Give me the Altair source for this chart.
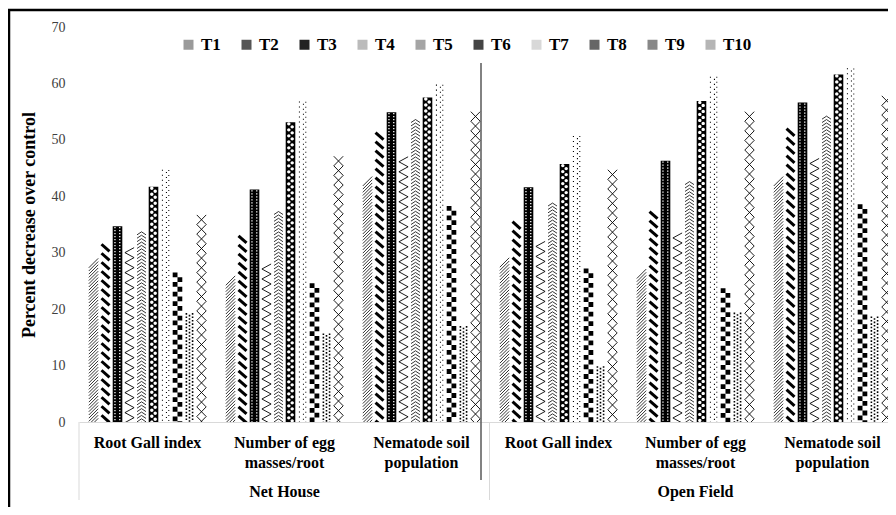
import altair as alt
import pandas as pd

settings = ["Net House", "Open Field"]
parameters = ["Root Gall index", "Number of egg masses/root", "Nematode soil population"]
param_labels = ["Root Gall index", "Number of egg\nmasses/root", "Nematode soil\npopulation"]
treatments = ["T1", "T2", "T3", "T4", "T5", "T6", "T7", "T8", "T9", "T10"]

nh_root_gall = [29.0, 31.5, 34.7, 30.9, 33.7, 41.7, 44.7, 26.5, 19.3, 36.7]
nh_egg = [25.9, 33.0, 41.2, 28.0, 37.3, 53.1, 56.8, 24.6, 15.7, 47.1]
nh_nema = [43.5, 51.3, 54.9, 47.0, 53.6, 57.5, 59.8, 38.3, 17.0, 55.0]
of_root_gall = [29.1, 35.5, 41.6, 32.0, 38.8, 45.7, 50.7, 27.2, 9.9, 44.7]
of_egg = [27.1, 37.3, 46.3, 33.5, 42.6, 56.9, 61.2, 23.7, 19.4, 55.0]
of_nema = [43.5, 52.0, 56.6, 46.7, 54.2, 61.6, 62.7, 38.6, 18.7, 57.8]

legend_grays = ["#9a9a9a", "#555555", "#222222", "#bbbbbb", "#a5a5a5",
                "#444444", "#d8d8d8", "#666666", "#888888", "#b5b5b5"]
base_fills = ["white", "white", "black", "white", "white",
              "black", "white", "white", "white", "white"]

series = {
    ("Net House", "Root Gall index"): nh_root_gall,
    ("Net House", "Number of egg masses/root"): nh_egg,
    ("Net House", "Nematode soil population"): nh_nema,
    ("Open Field", "Root Gall index"): of_root_gall,
    ("Open Field", "Number of egg masses/root"): of_egg,
    ("Open Field", "Nematode soil population"): of_nema,
}

cats = [f"{s}|{p}" for s in settings for p in parameters]
rows = []
for (s, p), vals in series.items():
    for t, v in zip(treatments, vals):
        rows.append({"cat": f"{s}|{p}", "treatment": t, "value": v})
df = pd.DataFrame(rows)

lab_df = pd.DataFrame({"cat": cats, "label": param_labels * 2})
grp_df = pd.DataFrame({"cat": [f"{s}|{parameters[1]}" for s in settings], "label": settings})
one = pd.DataFrame({"a": [0]})

FONT = "Liberation Serif"
HEIGHT = 395
PX = HEIGHT / 70.0  # pixels per unit

xscale = alt.Scale(domain=cats, range=[0, 822], paddingInner=0, paddingOuter=0)
xoff = alt.XOffset("treatment:N",
                   scale=alt.Scale(domain=treatments, paddingInner=0.2, paddingOuter=0.81))
yscale = alt.Scale(domain=[0, 70])


def rect(x, y, w, h):
    return f"M{x},{y}L{x + w},{y}L{x + w},{y + h}L{x},{y + h}Z"


def circ(cx, cy, r):
    return (f"M{cx - r},{cy}A{r},{r} 0 1,0 {cx + r},{cy}"
            f"A{r},{r} 0 1,0 {cx - r},{cy}Z")


# pattern tiles: path (pixel units, size=4 -> scale 1), tile height px, filled, colour,
# stroke width, distance of the top tile centre below the bar top (px)
patterns = {
    "T1": ("M-4.7,4.7L4.7,-4.7", 3.2, False, "black", 0.8, 4.7),
    "T2": ("M-4,-3.6L4,3.6", 9.0, False, "black", 3.0, 3.6),
    "T3": (rect(-3.2, -0.7, 1.3, 1.3) + rect(1.6, -0.7, 1.3, 1.3), 3.0, True, "white", 0, 1.5),
    "T4": ("M4.6,-5L-4.6,0L4.6,5", 10.0, False, "black", 0.9, 5.0),
    "T5": ("M-4.5,1.5L0,-1.5L4.5,1.5", 3.4, False, "black", 0.8, 1.5),
    "T6": (circ(-1.7, -1.5, 1.7) + circ(1.7, 1.5, 1.7), 6.0, True, "white", 0, 3.0),
    "T7": (rect(-3.6, -2.0, 1.1, 1.1) + rect(0.4, 0.2, 1.1, 1.1) + rect(2.8, -1.8, 1.0, 1.0),
           5.0, True, "black", 0, 2.0),
    "T8": (rect(-4.8, -4.8, 4.8, 4.8) + rect(0, 0, 4.8, 4.8), 9.6, True, "black", 0, 4.8),
    "T9": (rect(-3.9, -1.5, 1.6, 1.6) + rect(-0.8, 0.2, 1.6, 1.6) + rect(2.3, -1.5, 1.6, 1.6),
           3.4, True, "black", 0, 1.5),
    "T10": ("M-4.7,-4.8L4.7,4.8M4.7,-4.8L-4.7,4.8", 9.6, False, "black", 0.9, 4.8),
}

# offscreen squares that only carry the legend
legend_layer = alt.Chart(df).mark_square(size=100, opacity=1).encode(
    x=alt.value(-500), y=alt.value(-500),
    color=alt.Color("treatment:N", scale=alt.Scale(domain=treatments, range=legend_grays),
                    legend=alt.Legend(orient="none", legendX=101, legendY=9,
                                      direction="horizontal", columns=10, title=None,
                                      symbolType="square", symbolSize=100,
                                      symbolStrokeWidth=0, labelFont=FONT,
                                      labelFontSize=17, labelFontWeight="bold",
                                      labelColor="black", labelOffset=4,
                                      columnPadding=17)),
)

bars = alt.Chart(df).mark_bar().encode(
    x=alt.X("cat:N", scale=xscale,
            axis=alt.Axis(labels=False, ticks=False, title=None,
                          domainColor="#d9d9d9", domainWidth=1)),
    xOffset=xoff,
    y=alt.Y("value:Q", scale=yscale,
            axis=alt.Axis(values=[0, 10, 20, 30, 40, 50, 60, 70], grid=False, domain=False,
                          ticks=False, labelPadding=14, labelFont=FONT, labelFontSize=14,
                          labelColor="#404040",
                          title="Percent decrease over control", titleFont=FONT,
                          titleFontSize=18, titleFontWeight="bold", titleColor="black",
                          titleX=-41, titleY=197.5)),
    fill=alt.Fill("treatment:N", scale=alt.Scale(domain=treatments, range=base_fills),
                  legend=None),
)

pattern_layers = []
for t in treatments:
    path, tile, filled, col, sw, top = patterns[t]
    step = tile / PX
    expr = f"sequence(datum.value - {top / PX}, {-tile / PX}, {-step})"
    mk = dict(shape=path, size=4, filled=filled, opacity=1, clip=True)
    if filled:
        mk.update(fill=col, strokeWidth=0)
    else:
        mk.update(stroke=col, strokeWidth=sw)
    layer = alt.Chart(df).transform_filter(
        alt.datum.treatment == t
    ).transform_calculate(
        pos=expr
    ).transform_flatten(["pos"]).mark_point(**mk).encode(
        x=alt.X("cat:N", scale=xscale),
        xOffset=xoff,
        y=alt.Y("pos:Q", scale=yscale),
    )
    pattern_layers.append(layer)

cat_labels = alt.Chart(lab_df).mark_text(
    font=FONT, fontSize=16, fontWeight="bold", color="black",
    baseline="middle", lineBreak="\n", lineHeight=20
).encode(x=alt.X("cat:N", scale=xscale), y=alt.value(416), text="label:N")

grp_labels = alt.Chart(grp_df).mark_text(
    font=FONT, fontSize=16, fontWeight="bold", color="black", baseline="middle"
).encode(x=alt.X("cat:N", scale=xscale), y=alt.value(465), text="label:N")

sep_left = alt.Chart(one).mark_rule(color="#d9d9d9", strokeWidth=1).encode(
    x=alt.value(0), y=alt.value(395), y2=alt.value(473))
sep_mid = alt.Chart(one).mark_rule(color="#d9d9d9", strokeWidth=1).encode(
    x=alt.value(410.5), y=alt.value(395), y2=alt.value(473))
dark_line = alt.Chart(one).mark_rule(color="#595959", strokeWidth=1.5).encode(
    x=alt.value(402), y=alt.value(36), y2=alt.value(453))
frame_top = alt.Chart(one).mark_rule(color="black", strokeWidth=2.5).encode(
    x=alt.value(-71), x2=alt.value(809), y=alt.value(-17))
frame_left = alt.Chart(one).mark_rule(color="black", strokeWidth=2.5).encode(
    x=alt.value(-70), y=alt.value(-17), y2=alt.value(480))

chart = alt.layer(
    legend_layer, bars, *pattern_layers, cat_labels, grp_labels,
    sep_left, sep_mid, dark_line, frame_top, frame_left
).properties(
    width=809, height=HEIGHT,
    padding={"left": 71, "top": 19, "right": 0, "bottom": 85},
    autosize=alt.AutoSizeParams(type="none"),
    background="white",
).configure_view(stroke=None)

chart.save("out.html", embed_options={"renderer": "svg", "actions": False})
